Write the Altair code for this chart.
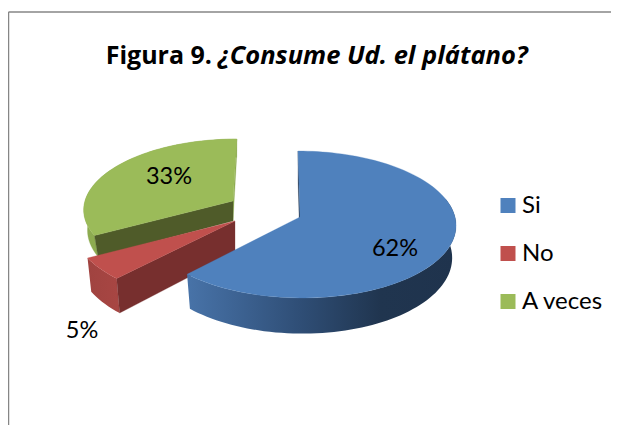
import math
import altair as alt
import pandas as pd

categories = ["Si", "No", "A veces"]
shares = [62, 5, 33]
shown = ["62%", "5%", "33%"]
colors = ["#4f81bd", "#c0504d", "#9bbb59"]
title_bold = "Figura 9."
title_italic = "¿Consume Ud. el plátano?"

W, H = 603, 417
K = 0.102
FONT = "Lato"
TITLE_FONT = "Open Sans"

# slice geometry: centre x, centre y, radius x, radius y, shear, wall depth
geom = {
    "Si": (300, 217, 155, 72.7, 0.03, 32),
    "No": (235, 221, 160, 73.0, 0.0, 32),
    "A veces": (233, 201, 148, 68.3, -0.06, 20),
}


def bounds():
    out, a = {}, 0.0
    for c, s in zip(categories, shares):
        out[c] = (a, a + s * 3.6)
        a += s * 3.6
    return out


B = bounds()


def pt(cat, deg, r=1.0, down=False):
    cx, cy, R, S, sh, depth = geom[cat]
    t = math.radians(deg)
    u, v = r * math.sin(t), -r * math.cos(t)
    w = 1 - K * v
    x, y = cx + R * u / w, cy + S * v / w
    x += sh * (y - cy)
    if down:
        x = cx + (x - cx) * 0.975
        y += depth / w
    return x, y


def sweep(a0, a1):
    n = max(2, int(abs(a1 - a0) / 2))
    return [a0 + (a1 - a0) * i / n for i in range(n + 1)]


def frame(points):
    points = points + [points[0]]
    return pd.DataFrame(
        {"x": [p[0] for p in points], "y": [p[1] for p in points], "o": range(len(points))}
    )


def top(cat):
    a0, a1 = B[cat]
    return frame([pt(cat, 0, 0)] + [pt(cat, a) for a in sweep(a0, a1)])


def outer(cat, a0, a1):
    up = [pt(cat, a) for a in sweep(a0, a1)]
    dn = [pt(cat, a, down=True) for a in sweep(a0, a1)]
    return frame(up + dn[::-1])


def radial(cat, a):
    return frame([pt(cat, 0, 0), pt(cat, a), pt(cat, a, down=True), pt(cat, 0, 0, down=True)])


XS = alt.Scale(domain=[8, 8 + W], nice=False, zero=False)
X = alt.X("x:Q", scale=XS, axis=None)
Y = alt.Y("y:Q", scale=alt.Scale(domain=[8 + H, 8], nice=False, zero=False), axis=None)


def poly(df, fill):
    plain = isinstance(fill, str)
    return (
        alt.Chart(df)
        .mark_line(fill=fill, stroke=fill if plain else "#2f4e76", strokeWidth=0.3 if plain else 0, clip=True)
        .encode(x=X, y=Y, order="o:Q")
    )


blue_wall = alt.Gradient(
    gradient="linear", x1=0, x2=1, y1=0, y2=0,
    stops=[
        alt.GradientStop(color="#4873a8", offset=0),
        alt.GradientStop(color="#3f6697", offset=0.15),
        alt.GradientStop(color="#2f4e76", offset=0.42),
        alt.GradientStop(color="#20354f", offset=0.72),
        alt.GradientStop(color="#1f334d", offset=1),
    ],
)
red_wall = alt.Gradient(
    gradient="linear", x1=0, x2=1, y1=0, y2=0,
    stops=[alt.GradientStop(color="#a04340", offset=0), alt.GradientStop(color="#a84643", offset=1)],
)

pieces = [
    poly(outer("A veces", *B["A veces"]), "#8dab50"),
    poly(radial("A veces", 360), "#8dab50"),
    poly(radial("A veces", B["A veces"][0]), "#4f5b29"),
    poly(top("A veces"), colors[2]),
    poly(outer("No", *B["No"]), red_wall),
    poly(radial("No", B["No"][0]), "#772f2e"),
    poly(top("No"), colors[1]),
    poly(radial("Si", 0), "#1f334d"),
    poly(outer("Si", 75, B["Si"][1]), blue_wall),
    poly(top("Si"), colors[0]),
]

# frame: the chart border runs off the right and bottom of the picture
frame_top = alt.Chart(pd.DataFrame({"a": [0]})).mark_rule(color="#868686", strokeWidth=1.5).encode(
    x=alt.value(0.5), x2=alt.value(W), y=alt.value(4)
)
frame_left = alt.Chart(pd.DataFrame({"a": [0]})).mark_rule(color="#868686", strokeWidth=1.5).encode(
    x=alt.value(0.5), y=alt.value(4), y2=alt.value(H)
)

# percentage labels
lab = pd.DataFrame({"t": shown, "x": [395, 82, 169], "y": [249, 331, 177]})
labels = alt.Chart(lab).mark_text(font=FONT, fontSize=23.5, color="#000000", baseline="middle").encode(
    x=X, y=Y, text="t:N"
)

ttl = pd.DataFrame({"a": [title_bold], "b": [title_italic], "xa": [212], "xb": [218], "y": [56]})
t1 = alt.Chart(ttl).mark_text(font=TITLE_FONT, fontSize=25, fontWeight="bold", align="right", baseline="middle", color="#000000").encode(
    x=alt.X("xa:Q", scale=XS, axis=None), y=Y, text="a:N"
)
t2 = alt.Chart(ttl).mark_text(font=TITLE_FONT, fontSize=25.5, fontWeight="bold", fontStyle="italic", align="left", baseline="middle", color="#000000").encode(
    x=alt.X("xb:Q", scale=XS, axis=None), y=Y, text="b:N"
)

leg = pd.DataFrame({"c": categories})
legend = alt.Chart(leg).mark_square(size=225, opacity=1).encode(
    x=alt.value(-60),
    y=alt.value(-60),
    fill=alt.Fill(
        "c:N",
        scale=alt.Scale(domain=categories, range=colors),
        sort=categories,
        legend=alt.Legend(
            title=None,
            orient="none",
            legendX=488,
            legendY=185.5,
            symbolType="square",
            symbolSize=225,
            labelFont=FONT,
            labelFontSize=24,
            labelColor="#000000",
            labelOffset=2,
            rowPadding=24,
            symbolStrokeWidth=0,
        ),
    ),
)

chart = alt.layer(
    frame_top, frame_left, *pieces, labels, t1, t2, legend
).properties(
    width=W, height=H, padding=0, autosize=alt.AutoSizeParams(type="none"), background="#ffffff"
).configure_view(stroke=None)

chart.save("out.html", embed_options={"renderer": "svg", "actions": False})
